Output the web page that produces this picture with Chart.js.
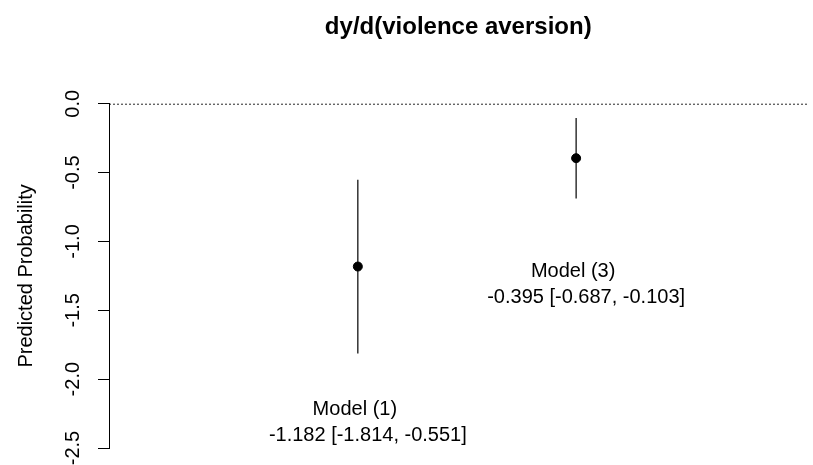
<!DOCTYPE html>
<html>
<head>
<meta charset="utf-8">
<script src="https://cdn.jsdelivr.net/npm/chart.js@4"></script>
<style>
html, body { margin: 0; padding: 0; background: #fff; }
</style>
</head>
<body>
<canvas id="effectChart" width="813" height="465"></canvas>
<script>
// values
const models = ['Model (1)', 'Model (3)'];
const modelX = [1, 2];
const estimates = [-1.182, -0.395];
const lower = [-1.814, -0.687];
const upper = [-0.551, -0.103];
const yTicks = [0, -0.5, -1, -1.5, -2, -2.5];
const tickLabels = ['0.0', '-0.5', '-1.0', '-1.5', '-2.0', '-2.5'];

const xMin = -0.14;
const xMax = 3.06;
const FONT = "'Liberation Sans', Arial, sans-serif";

Chart.defaults.font.family = FONT;
Chart.defaults.color = '#000';

// rotated tick labels, like R's default las=0
const tickText = {
    id: 'tickText',
    afterDraw(chart) {
        const ctx = chart.ctx;
        const y = chart.scales.y;
        ctx.save();
        ctx.font = '20px ' + FONT;
        ctx.fillStyle = '#000';
        ctx.textAlign = 'center';
        ctx.textBaseline = 'middle';
        y.ticks.forEach((t, i) => {
            ctx.save();
            ctx.translate(73, y.getPixelForValue(t.value));
            ctx.rotate(-Math.PI / 2);
            ctx.fillText(tickLabels[i], 0, 0);
            ctx.restore();
        });
        ctx.restore();
    }
};

// "Model (n)" and estimate [ci] text under each interval
const modelLabels = {
    id: 'modelLabels',
    afterDatasetsDraw(chart, args, opts) {
        const ctx = chart.ctx;
        const xs = chart.scales.x, ys = chart.scales.y;
        ctx.save();
        ctx.font = '20px ' + FONT;
        ctx.fillStyle = '#000';
        ctx.textAlign = 'center';
        ctx.textBaseline = 'middle';
        models.forEach((m, i) => {
            const px = xs.getPixelForValue(modelX[i]);
            const py = ys.getPixelForValue(opts.anchors[i]);
            ctx.fillText(m, px - 3, py);
            const txt = estimates[i].toFixed(3) + ' [' + lower[i].toFixed(3) + ', ' + upper[i].toFixed(3) + ']';
            ctx.fillText(txt, px + 10, py + 26);
        });
        ctx.restore();
    }
};

const datasets = [{
    type: 'line',
    data: [{x: xMin, y: 0}, {x: xMax, y: 0}],
    borderColor: '#000',
    borderWidth: 1.6,
    borderDash: [2, 2],
    pointRadius: 0
}];

models.forEach((m, i) => {
    datasets.push({
        type: 'line',
        label: m,
        data: [{x: modelX[i], y: lower[i]}, {x: modelX[i], y: upper[i]}],
        borderColor: '#000',
        borderWidth: 1.2,
        pointRadius: 0
    });
});

datasets.push({
    type: 'scatter',
    data: modelX.map((x, i) => ({x, y: estimates[i]})),
    pointRadius: 4.5,
    pointBackgroundColor: '#000',
    pointBorderColor: '#000'
});

new Chart(document.getElementById('effectChart'), {
    type: 'scatter',
    data: {datasets},
    options: {
        responsive: false,
        animation: false,
        layout: {padding: {left: 0, right: 3, top: 0, bottom: 17}},
        scales: {
            x: {type: 'linear', display: false, min: xMin, max: xMax},
            y: {
                min: -2.5,
                max: 0,
                afterFit: s => { s.width = 109; },
                afterBuildTicks: s => { s.ticks = yTicks.map(v => ({value: v})); },
                border: {display: true, color: '#000', width: 1},
                grid: {drawOnChartArea: false, drawTicks: true, tickLength: 11, color: '#000'},
                ticks: {display: false},
                title: {
                    display: true,
                    text: 'Predicted Probability',
                    font: {size: 20},
                    color: '#000',
                    padding: {top: 14, bottom: 0}
                }
            }
        },
        plugins: {
            legend: {display: false},
            tooltip: {enabled: false},
            title: {
                display: true,
                text: 'dy/d(violence aversion)',
                fullSize: false,
                font: {size: 24, weight: 'bold'},
                color: '#000',
                padding: {top: 13, bottom: 62}
            },
            modelLabels: {anchors: [-2.22, -1.22]}
        }
    },
    plugins: [tickText, modelLabels]
});
</script>
</body>
</html>
